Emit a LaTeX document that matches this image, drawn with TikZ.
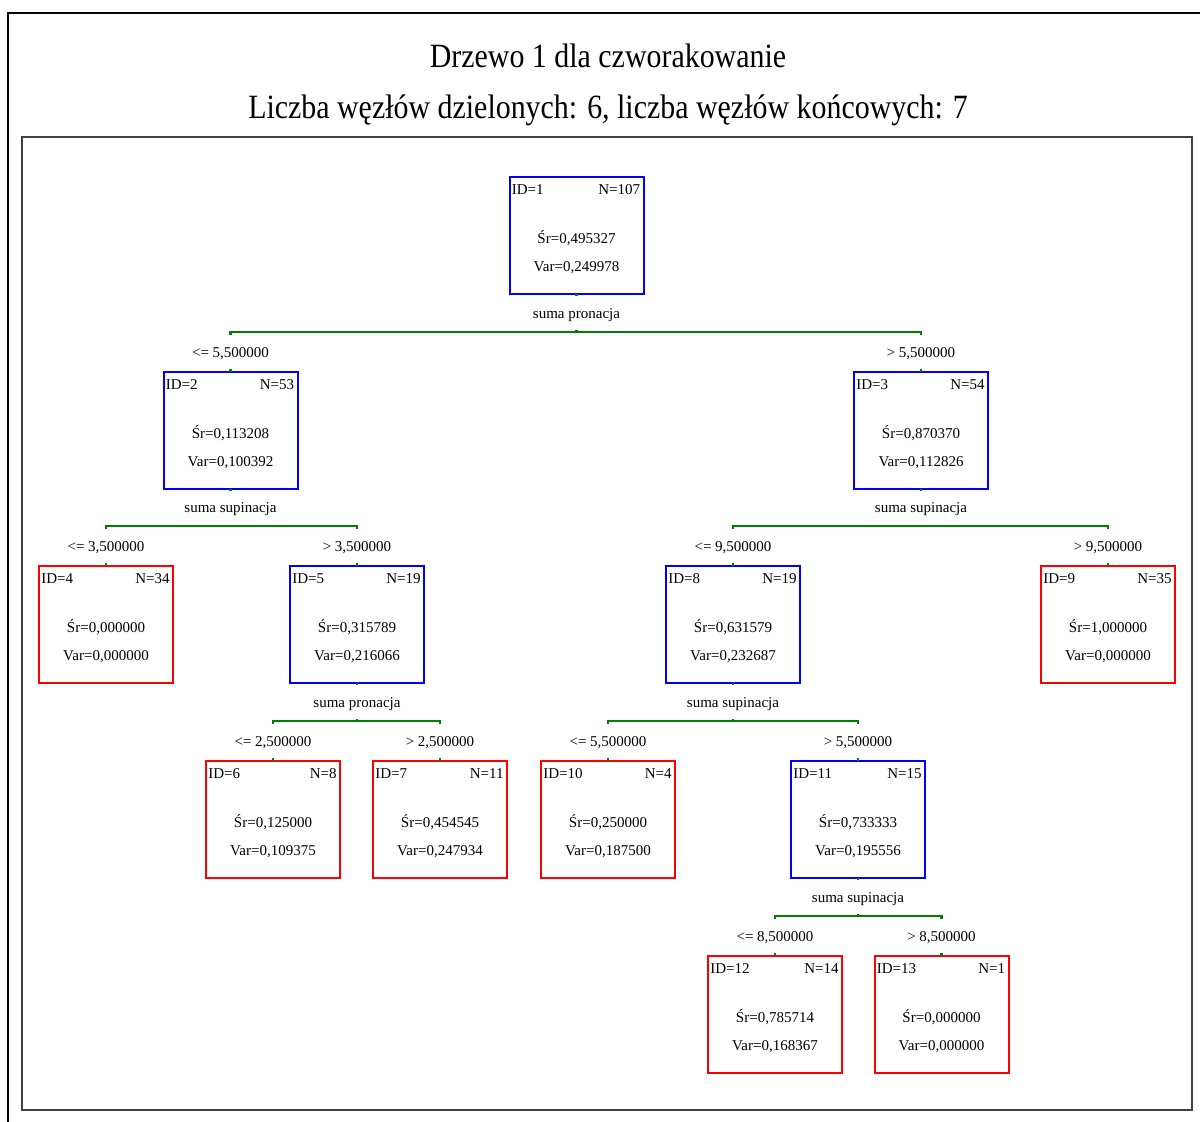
\documentclass[tikz,border=0pt]{standalone}
\usepackage{fontspec}
\setmainfont{Liberation Serif}
\newfontfamily\titlefont[FakeStretch=0.88]{Liberation Serif}
\usetikzlibrary{calc}

\tikzset{
  frame/.style={draw=black, line width=1pt},
  panel/.style={draw=black!75, line width=1.1pt},
  splitbox/.style={draw=blue, line width=1pt, minimum width=67pt, minimum height=58.5pt, inner sep=0pt, outer sep=0pt},
  leafbox/.style={draw=red, line width=1pt, minimum width=67pt, minimum height=58.5pt, inner sep=0pt, outer sep=0pt},
  boxtext/.style={inner sep=0pt, font=\fontsize{7.5}{9}\selectfont},
  splitline/.style={draw=green!50!black, line width=1.2pt},
  cover/.style={fill=white, inner sep=0pt, minimum height=17pt, text height=6.6pt, text depth=1.6pt, font=\fontsize{7.5}{9}\selectfont},
  titletext/.style={inner sep=0pt, font=\titlefont\fontsize{17}{20}\selectfont}
}

% one tree node: name, centre x, top y, style, id, count, mean, variance
\newcommand\treebox[8]{%
  \node[#4, anchor=north] (#1) at (#2,#3) {};
  \node[boxtext, anchor=base west] (#1idt) at ([shift={(2,17)}]#1.north west) {ID=#5};
  \node[boxtext, anchor=base east] (#1nt) at ([shift={(-3,17)}]#1.north east) {N=#6};
  \node[boxtext, anchor=base] (#1mt) at ([shift={(0,66)}]#1.north) {Śr=#7};
  \node[boxtext, anchor=base] (#1vt) at ([shift={(0,94)}]#1.north) {Var=#8};
}

% one split: parent, left child, right child, bar y, variable, left rule, right rule
\newcommand\branch[7]{%
  \coordinate (#1s) at (#1.south |- 0,#4);
  \draw[splitline] (#1.south) -- (#1s);
  \draw[splitline] (#2.north) -- (#2.north |- #1s) -- (#3.north |- #1s) -- (#3.north);
  \node[cover] (#1lab) at ($(#1.south)!0.5!(#1s)$) {#5};
  \node[cover] (#2cond) at ($(#2.north)!0.5!(#2.north |- #1s)$) {#6};
  \node[cover] (#3cond) at ($(#3.north)!0.5!(#3.north |- #1s)$) {#7};
}

\begin{document}
\begin{tikzpicture}[x=0.5pt, y=-0.5pt]
\useasboundingbox (0,0) rectangle (1200,1121);
\clip (0,0) rectangle (1200,1121);

% frames
\draw[frame] (8,13) rectangle (1230,1150);
\draw[panel] (22,137) rectangle (1192,1110);

% title
\node[titletext, anchor=base] (title1) at (608,67) {Drzewo 1 dla czworakowanie};
\node[titletext, anchor=base] (title2) at (608,118) {Liczba węzłów dzielonych: 6, liczba węzłów końcowych: 7};

% nodes
\treebox{n1}{576.5}{177}{splitbox}{1}{107}{0,495327}{0,249978}
\treebox{n2}{230.5}{372}{splitbox}{2}{53}{0,113208}{0,100392}
\treebox{n3}{921}{372}{splitbox}{3}{54}{0,870370}{0,112826}
\treebox{n4}{106}{566}{leafbox}{4}{34}{0,000000}{0,000000}
\treebox{n5}{357}{566}{splitbox}{5}{19}{0,315789}{0,216066}
\treebox{n8}{733}{566}{splitbox}{8}{19}{0,631579}{0,232687}
\treebox{n9}{1108}{566}{leafbox}{9}{35}{1,000000}{0,000000}
\treebox{n6}{273}{761}{leafbox}{6}{8}{0,125000}{0,109375}
\treebox{n7}{440}{761}{leafbox}{7}{11}{0,454545}{0,247934}
\treebox{n10}{608}{761}{leafbox}{10}{4}{0,250000}{0,187500}
\treebox{n11}{858}{761}{splitbox}{11}{15}{0,733333}{0,195556}
\treebox{n12}{775}{956}{leafbox}{12}{14}{0,785714}{0,168367}
\treebox{n13}{941.5}{956}{leafbox}{13}{1}{0,000000}{0,000000}

% splits
\branch{n1}{n2}{n3}{332}{suma pronacja}{<= 5,500000}{> 5,500000}
\branch{n2}{n4}{n5}{526}{suma supinacja}{<= 3,500000}{> 3,500000}
\branch{n3}{n8}{n9}{526}{suma supinacja}{<= 9,500000}{> 9,500000}
\branch{n5}{n6}{n7}{721}{suma pronacja}{<= 2,500000}{> 2,500000}
\branch{n8}{n10}{n11}{721}{suma supinacja}{<= 5,500000}{> 5,500000}
\branch{n11}{n12}{n13}{916}{suma supinacja}{<= 8,500000}{> 8,500000}
\end{tikzpicture}
\end{document}
